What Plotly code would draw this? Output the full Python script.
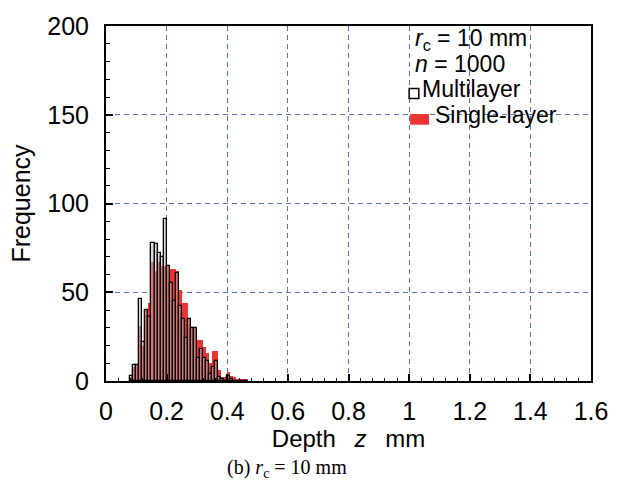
import plotly.graph_objects as go

bin_width = 0.01
depth_bins = [0.08, 0.09, 0.10, 0.11, 0.12, 0.13, 0.14, 0.15, 0.16, 0.17,
              0.18, 0.19, 0.20, 0.21, 0.22, 0.23, 0.24, 0.25, 0.26, 0.27,
              0.28, 0.29, 0.30, 0.31, 0.32, 0.33, 0.34, 0.35, 0.36, 0.37,
              0.38, 0.39, 0.40, 0.41, 0.42, 0.43, 0.44, 0.45, 0.46]
multilayer = [3, 9, 9, 46, 22, 40, 36, 78, 77, 72,
              70, 91, 65, 55, 45, 61, 42, 35, 24, 35,
              30, 30, 13, 18, 13, 11, 4, 8, 11, 2,
              1, 0, 3, 1, 0, 0, 0, 0, 0]
single_layer = [2, 8, 9, 31, 20, 40, 44, 67, 62, 67,
                65, 65, 65, 63, 63, 62, 51, 44, 44, 35,
                30, 30, 23, 23, 19, 16, 10, 17, 17, 6,
                2, 2, 5, 3, 2, 1, 1, 1, 1]
x_ticks = [0, 0.2, 0.4, 0.6, 0.8, 1.0, 1.2, 1.4, 1.6]
x_tick_labels = ["0", "0.2", "0.4", "0.6", "0.8", "1", "1.2", "1.4", "1.6"]
y_ticks = [0, 50, 100, 150, 200]

centers = [b + bin_width / 2 for b in depth_bins]

fig = go.Figure()
fig.add_trace(go.Bar(
    x=centers, y=single_layer, width=bin_width, name="Single-layer",
    marker=dict(color="#ee3333", line=dict(width=0)),
))
fig.add_trace(go.Bar(
    x=centers, y=multilayer, width=bin_width, name="Multilayer",
    marker=dict(color="rgba(190,190,190,0.5)", line=dict(color="black", width=1.3)),
))

FONT = "Liberation Sans, Arial, Helvetica, sans-serif"
grid_color = "#5572c2"
FS = 25
LFS = 23

fig.update_layout(
    width=620, height=487,
    margin=dict(l=106, r=29, t=18, b=106),
    paper_bgcolor="white", plot_bgcolor="white",
    barmode="overlay", bargap=0,
    showlegend=False,
    font=dict(family=FONT, size=FS, color="black"),
    xaxis=dict(
        range=[0, 1.6], tickvals=x_ticks, ticktext=x_tick_labels,
        ticks="inside", ticklen=7, tickwidth=1.5, tickcolor="black",
        minor=dict(dtick=0.04, tick0=0, ticks="inside", ticklen=3.5, tickcolor="black", tickwidth=1.2, showgrid=False),
        showline=True, linecolor="black", linewidth=2, mirror=True,
        showgrid=True, gridcolor=grid_color, gridwidth=1, griddash="5px,4px",
        zeroline=False,
        tickfont=dict(size=FS, family=FONT),
        ticklabelstandoff=7,
        title=dict(text="Depth\u2002 <i>z</i> \u2002mm", font=dict(size=24, family=FONT), standoff=1),
    ),
    yaxis=dict(
        range=[0, 200], tickvals=y_ticks,
        ticks="inside", ticklen=7, tickwidth=1.5, tickcolor="black",
        minor=dict(dtick=10, tick0=0, ticks="inside", ticklen=3.5, tickcolor="black", tickwidth=1.2, showgrid=False),
        showline=True, linecolor="black", linewidth=2, mirror=True,
        showgrid=True, gridcolor=grid_color, gridwidth=1, griddash="5px,4px",
        zeroline=False,
        tickfont=dict(size=FS, family=FONT),
        ticklabelstandoff=10,
        title=dict(text="Frequency", font=dict(size=FS, family=FONT), standoff=10),
    ),
)

# legend box
fig.add_shape(type="rect", xref="paper", yref="paper", x0=0.606, x1=0.971, y0=0.702, y1=0.995,
              fillcolor="white", line=dict(width=0), layer="below")
fig.add_shape(type="rect", xref="paper", yref="paper", x0=0.625, x1=0.645, y0=0.796, y1=0.824,
              fillcolor="white", line=dict(color="black", width=1.5))
fig.add_shape(type="rect", xref="paper", yref="paper", x0=0.627, x1=0.666, y0=0.722, y1=0.752,
              fillcolor="#ee3333", line=dict(width=0))

def ann(text, x, y, **kw):
    fig.add_annotation(text=text, xref="paper", yref="paper", x=x, y=y,
                       xanchor="left", yanchor="middle", showarrow=False,
                       font=dict(size=LFS, family=FONT, color="black"), **kw)

ann("<i>r</i><sub>c</sub> = 10 mm", 0.633, 0.962)
ann("<i>n</i> = 1000", 0.633, 0.894)
ann("Multilayer", 0.647, 0.822)
ann("Single-layer", 0.674, 0.750)

fig.add_annotation(text="(b) <i>r</i><sub>c</sub> = 10 mm", xref="paper", yref="paper",
                   x=0.373, y=-0.288, xanchor="center", yanchor="bottom", showarrow=False,
                   font=dict(size=20, family="Liberation Serif, Times New Roman, serif", color="black"))

fig.write_html("out.html")
